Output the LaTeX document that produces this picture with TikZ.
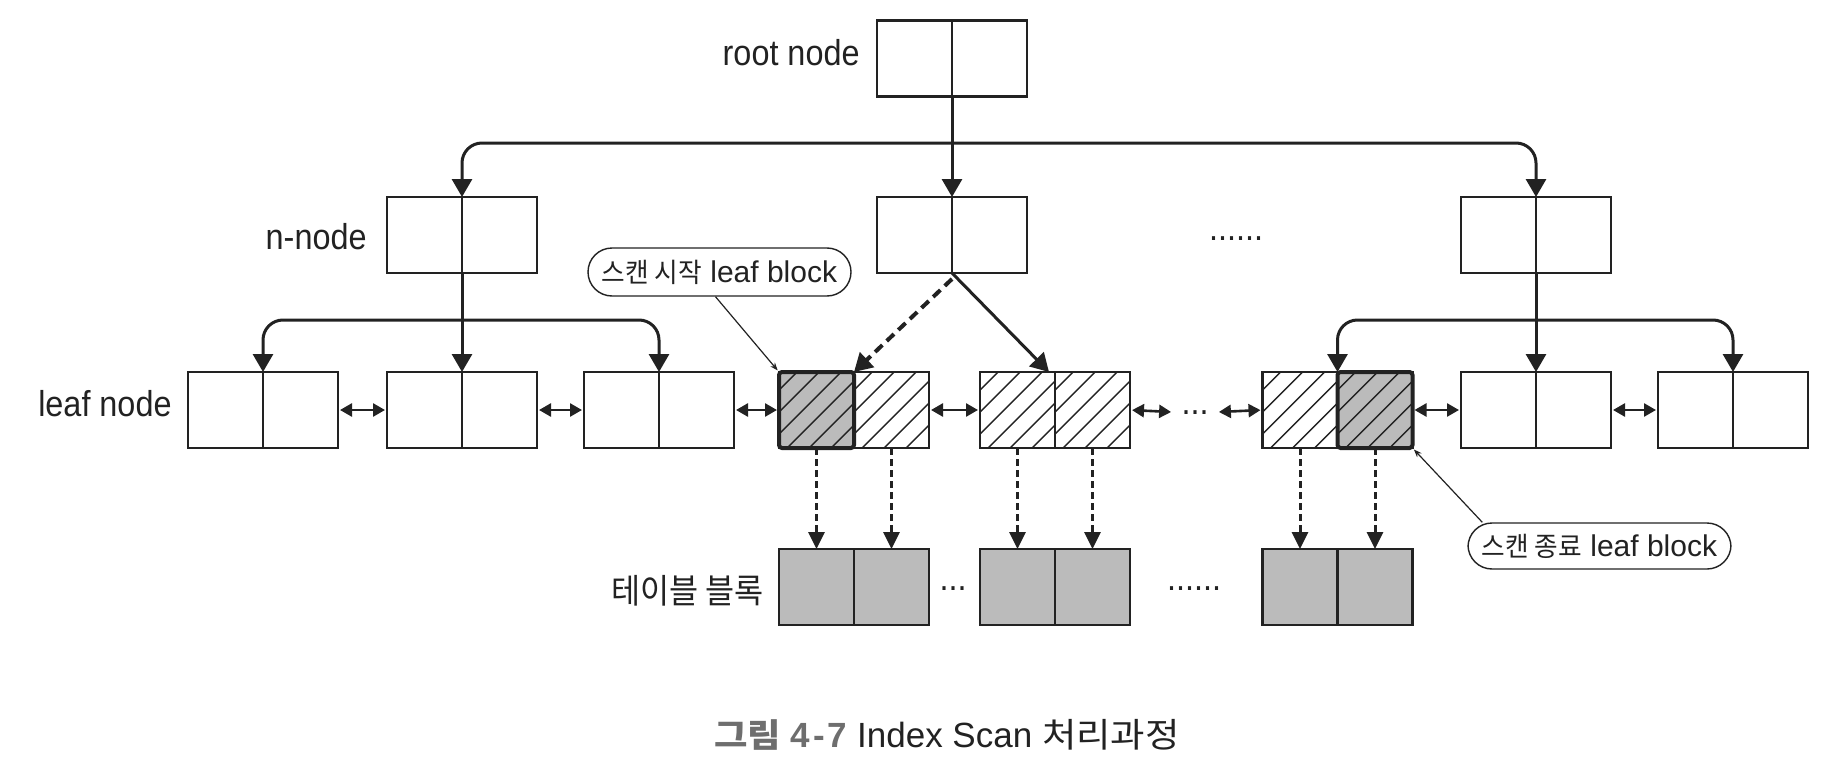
\documentclass[tikz,border=0pt]{standalone}
\usepackage{fontspec}
\setmainfont{Liberation Sans}
\newfontfamily\labfont{Liberation Sans}[FakeStretch=0.9]
\newfontfamily\krlabfont{Noto Sans CJK KR}[FakeStretch=0.93]
\newfontfamily\krcallfont{Noto Sans CJK KR}[FakeStretch=0.95]
\newfontfamily\krcapfont{Noto Sans CJK KR}[FakeStretch=1.1]
\usetikzlibrary{arrows.meta}
\definecolor{ink}{HTML}{222222}
\definecolor{shade}{HTML}{BBBBBB}
\definecolor{capgray}{HTML}{6E6E6E}
\newcommand{\hatchnode}[1]{%
  \begin{scope}
    \clip (#1.south west) rectangle (#1.north east);
    \foreach \k in {-4,...,4}{\draw[hatchline] ([xshift=\k*11pt+4pt]#1.south west) -- ++(100,-100);}
  \end{scope}}
\newcommand{\splitline}[1]{\draw[divider] (#1.north) -- (#1.south);}
\begin{document}
\begin{tikzpicture}[x=0.5pt,y=-0.5pt,
  box/.style={draw=ink, line width=1.15pt, minimum width=75pt, minimum height=38pt, inner sep=0pt, outer sep=0pt},
  half/.style={draw=ink, line width=1.15pt, minimum width=37.5pt, minimum height=38pt, inner sep=0pt, outer sep=0pt},
  divider/.style={draw=ink, line width=1pt},
  darkedge/.style={draw=ink, line width=2pt, rounded corners=1.5pt},
  tree/.style={draw=ink, line width=1.5pt, -{Triangle[length=9pt,width=10pt]}, rounded corners=10pt},
  tipdash/.style={draw=ink, line width=2pt, dash pattern=on 5pt off 3pt, -{Triangle[length=9pt,width=10pt]}},
  link/.style={draw=ink, line width=1.3pt, {Triangle[length=6pt,width=6.5pt]}-{Triangle[length=6pt,width=6.5pt]}, shorten <=1pt, shorten >=1pt},
  fetch/.style={draw=ink, line width=1.5pt, dash pattern=on 3.5pt off 2pt, -{Triangle[length=8.5pt,width=8pt]}},
  hatchline/.style={draw=ink, line width=0.7pt},
  callout/.style={draw=ink, line width=0.7pt, rounded corners=12pt, minimum width=131.5pt, inner sep=0pt, text=ink},
  pointer/.style={draw=ink, line width=0.6pt, -{Stealth[length=4pt,width=3pt]}, shorten >=1pt},
  lbl/.style={inner sep=0pt, text=ink, font=\labfont\fontsize{18pt}{20pt}\selectfont},
  krlbl/.style={inner sep=0pt, text=ink, font=\krlabfont\fontsize{17pt}{19pt}\selectfont},
  dots/.style={inner sep=0pt, text=ink, font=\labfont\fontsize{18pt}{20pt}\selectfont}
]
\fill[white] (0,0) rectangle (1822,776);
\useasboundingbox (0,0) rectangle (1822,776);

% root and n-nodes
\node[box] (root) at (952,58.5) {};
\node[box] (nL) at (462,235) {};
\node[box] (nM) at (952,235) {};
\node[box] (nR) at (1536,235) {};
\foreach \n in {root,nL,nM,nR} {\splitline{\n}}

% leaf nodes
\node[box] (L1) at (263,410) {};
\node[box] (L2) at (462,410) {};
\node[box] (L3) at (659,410) {};
\node[half, fill=shade] (L4a) at (816.5,410) {};
\node[half] (L4b) at (891.5,410) {};
\node[half] (L5a) at (1017.5,410) {};
\node[half] (L5b) at (1092.5,410) {};
\node[half] (L6a) at (1300,410) {};
\node[half, fill=shade] (L6b) at (1375,410) {};
\node[box] (L7) at (1536,410) {};
\node[box] (L8) at (1733,410) {};
\foreach \n in {L1,L2,L3,L7,L8} {\splitline{\n}}
\foreach \n in {L4a,L4b,L5a,L5b,L6a,L6b} {\hatchnode{\n}}
\draw[darkedge] (L4a.south west) rectangle (L4a.north east);
\draw[darkedge] (L6b.south west) rectangle (L6b.north east);

% table blocks
\node[half, fill=shade] (T1a) at (816.5,587) {};
\node[half, fill=shade] (T1b) at (891.5,587) {};
\node[half, fill=shade] (T2a) at (1017.5,587) {};
\node[half, fill=shade] (T2b) at (1092.5,587) {};
\node[half, fill=shade] (T3a) at (1300,587) {};
\node[half, fill=shade] (T3b) at (1375,587) {};

% tree connectors
\coordinate (hub) at (952,143);
\coordinate (lhub) at (462,320);
\coordinate (rhub) at (1536,320);
\draw[tree] (root.south) -- (nM.north);
\draw[tree] (hub) -| (nL.north);
\draw[tree] (hub) -| (nR.north);
\draw[tree] (nL.south) -- (L2.north);
\draw[tree] (lhub) -| (L1.north);
\draw[tree] (lhub) -| (L3.north);
\draw[tree] (nR.south) -- (L7.north);
\draw[tree] (rhub) -| (L6a.north east);
\draw[tree] (rhub) -| (L8.north);
\draw[tipdash] ([yshift=-3pt]nM.south) -- (L4a.north east);
\draw[tree] (nM.south) -- ([xshift=-3pt]L5a.north east);

% sibling links
\node[dots, anchor=base] (ldots) at (1195,414) {...};
\draw[link] (L1.east) -- (L2.west);
\draw[link] (L2.east) -- (L3.west);
\draw[link] (L3.east) -- (L4a.west);
\draw[link] (L4b.east) -- (L5a.west);
\draw[link] (L5b.east) -- ([xshift=-4pt]ldots.west);
\draw[link] ([xshift=4pt]ldots.east) -- (L6a.west);
\draw[link] (L6b.east) -- (L7.west);
\draw[link] (L7.east) -- (L8.west);

% table fetches
\draw[fetch] (L4a.south) -- (T1a.north);
\draw[fetch] (L4b.south) -- (T1b.north);
\draw[fetch] (L5a.south) -- (T2a.north);
\draw[fetch] (L5b.south) -- (T2b.north);
\draw[fetch] (L6a.south) -- (T3a.north);
\draw[fetch] (L6b.south) -- (T3b.north);

% labels
\node[lbl, anchor=base east] (lroot) at (860,65) {root node};
\node[lbl, anchor=base east] (lnnode) at (367,249) {n-node};
\node[lbl, anchor=base east] (lleaf) at (172,416) {leaf node};
\node[krlbl, anchor=base east] (ltable) at (764,603) {테이블 블록};
\node[dots, anchor=base] (ndots) at (1236,240) {......};
\node[dots, anchor=base] (tdots1) at (953,590) {...};
\node[dots, anchor=base] (tdots2) at (1194,590) {......};

% callouts
\node[callout, minimum height=24pt] (c1) at (719.5,272)
  {\fontsize{15pt}{17pt}\selectfont{\krcallfont\fontsize{13.5pt}{15pt}\selectfont 스캔 시작} leaf block};
\node[callout, minimum height=23pt] (c2) at (1599.5,546)
  {\fontsize{15pt}{17pt}\selectfont{\krcallfont\fontsize{13.5pt}{15pt}\selectfont 스캔 종료} leaf block};
\draw[pointer] ([xshift=-2pt]c1.south) -- (L4a.north west);
\draw[pointer] ([xshift=7.5pt]c2.north west) -- (L6b.south east);

% caption
\node[anchor=base, inner sep=0pt, text=ink, font=\fontsize{17.5pt}{20pt}\selectfont] (cap) at (947,747)
  {{\krcapfont\bfseries\fontsize{16.5pt}{20pt}\selectfont\color{capgray}그림} {\bfseries\color{capgray}4\kern1.5pt-\kern1.5pt7} Index Scan {\krcapfont\fontsize{17pt}{20pt}\selectfont 처리과정}};
\end{tikzpicture}
\end{document}
